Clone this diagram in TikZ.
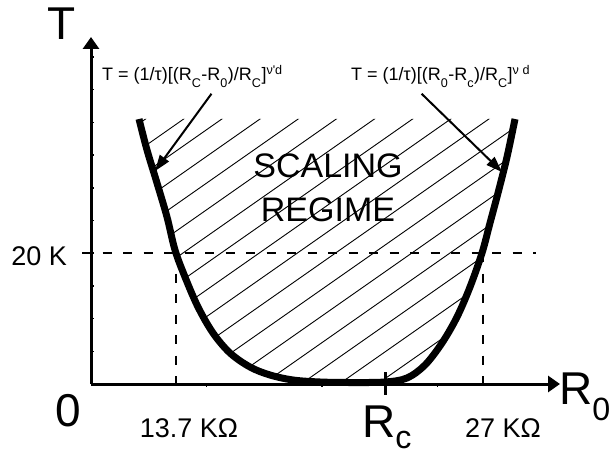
\documentclass[tikz,border=0pt]{standalone}
\usepackage{fontspec}
\setmainfont{Liberation Sans}
\usetikzlibrary{arrows.meta}
\newcommand{\dn}[2][0.2em]{\raisebox{-#1}{\textsubscript{#2}}}

\begin{document}
\begin{tikzpicture}[x=1pt,y=-1pt,
  axis/.style={line width=3pt,-{Triangle[length=12pt,width=16pt]}},
  guide/.style={line width=2pt,dash pattern=on 9pt off 11.5pt},
  hatch/.style={line width=0.9pt},
  bowl/.style={line width=7pt},
  pointer/.style={line width=2pt,-{Triangle[length=16pt,width=11pt]}},
  big/.style={font=\fontsize{46}{50}\selectfont,inner sep=0pt},
  mid/.style={font=\fontsize{27}{30}\selectfont,inner sep=0pt},
  fml/.style={font=\fontsize{18}{20}\selectfont,inner sep=0pt},
  regime/.style={font=\fontsize{34}{44}\selectfont,align=center,inner sep=0pt}]
  \useasboundingbox (0,0) rectangle (610,457);
  % the bowl T(R_0), kept as a path for the hatching
  \path[save path=\bowlpath] plot[smooth,tension=0.55] coordinates {
    (139,119) (147,150) (157,183) (167,217) (175,250) (185,277) (198,307)
    (213,333) (230,353) (250,367) (270,375) (293,380) (320,382) (350,382.5)
    (385,382) (407,378) (425,365) (442,343) (457,317) (470,287) (482,253)
    (490,223) (498,193) (507,157) (515,119)};
  \begin{scope}
    \clip[use path=\bowlpath];
    \foreach \k in {-5,...,15}
      \draw[hatch] (100,{301+26.7*\k-70}) -- (560,{301+26.7*\k-392});
  \end{scope}
  \draw[bowl,use path=\bowlpath];
  % axes and minor ticks
  \coordinate (org) at (91,384);
  \draw[axis] (org) -- (91,37);
  \draw[axis] (org) -- (560,384);
  \foreach \k in {1,...,10}
    \draw[line width=1.5pt] (91,{384-32.7*\k}) -- (94,{384-32.7*\k});
  \foreach \k in {1,...,4}
    \draw[line width=1.5pt] ({91+115.5*\k},384) -- ({91+115.5*\k},387);
  \draw[line width=3pt] (385,372) -- (385,395);
  % 20 K level
  \draw[guide] (82,253) -- (536,253);
  \draw[guide] (176,253) -- (176,393);
  \draw[guide] (483,253) -- (483,393);
  % labels
  \node[big] (tlabel) at (62,24) {T};
  \node[big] (zero) at (68,411) {0};
  \node[big,anchor=base west] (rnull) at (559,404) {R\dn[0.05em]{0}};
  \node[big,anchor=base west] (rcrit) at (362,437) {R\dn[0.05em]{c}};
  \node[mid,anchor=base east] (twenty) at (67,265) {20 K};
  \node[mid,anchor=base] (lowr) at (189,437) {13.7 KΩ};
  \node[mid,anchor=base] (highr) at (503,437) {27 KΩ};
  \node[regime] (scaling) at (328,188) {SCALING\\REGIME};
  \node[fml,anchor=base west] (fleft) at (102,81)
    {T = (1/τ)[(R\dn{C}-R\dn{0})/R\dn{C}]\textsuperscript{ν\textquotesingle d}};
  \node[fml,anchor=base west] (fright) at (351,81)
    {T = (1/τ)[(R\dn{0}-R\dn{c})/R\dn{C}]\textsuperscript{ν d}};
  % formulas point at the two branches
  \coordinate (lefttip) at (155,171);
  \coordinate (righttip) at (502,172);
  \draw[pointer] ([xshift=19pt,yshift=-6pt]fleft.south) -- (lefttip);
  \draw[pointer] ([xshift=-19pt,yshift=-6pt]fright.south) -- (righttip);
\end{tikzpicture}
\end{document}
